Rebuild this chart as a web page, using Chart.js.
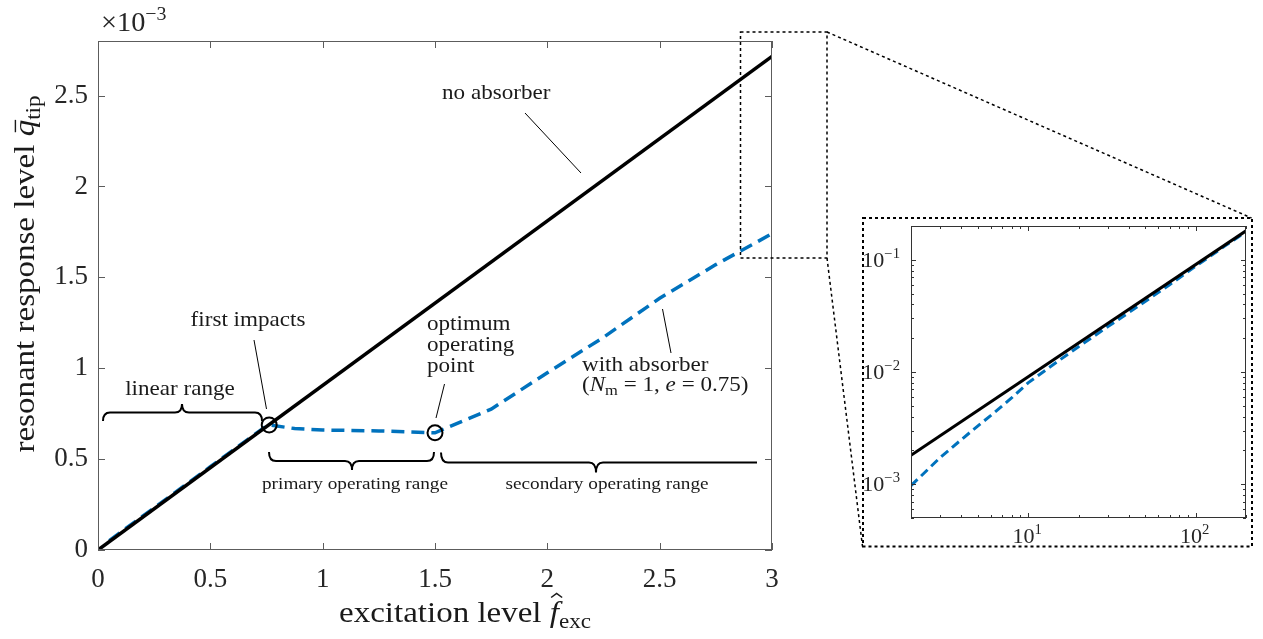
<!DOCTYPE html>
<html>
<head>
<meta charset="utf-8">
<script src="https://cdn.jsdelivr.net/npm/chart.js@4.4.1/dist/chart.umd.min.js"></script>
<style>
  html, body { margin: 0; padding: 0; background: #fff; }
  #wrap { position: relative; width: 1263px; height: 639px; }
  #mainChart { position: absolute; left: 0; top: 0; }
  #insetChart { position: absolute; left: 858px; top: 214px; }
</style>
</head>
<body>
<div id="wrap">
  <canvas id="mainChart" width="1263" height="639"></canvas>
  <canvas id="insetChart" width="400" height="340"></canvas>
</div>
<script>
// excitation level f_exc and resonant tip response (main plot in units of 1e-3)
const fNoAbs = [0, 3];
const qNoAbs = [0, 2.715];
const fAbs = [0.05, 0.25, 0.5, 0.75, 0.762, 0.875, 1.0, 1.25, 1.5, 1.75, 2.0, 2.25, 2.5, 2.75, 3.0];
const qAbs = [0.052, 0.232, 0.458, 0.683, 0.688, 0.668, 0.66, 0.655, 0.645, 0.775, 0.975, 1.17, 1.385, 1.57, 1.74];
// first impacts / optimum operating point
const fMark = [0.762, 1.5];
const qMark = [0.688, 0.645];

const xTicks = [0, 0.5, 1, 1.5, 2, 2.5, 3];
const xTickLabels = ['0', '0.5', '1', '1.5', '2', '2.5', '3'];
const yTicks = [0, 0.5, 1, 1.5, 2, 2.5];
const yTickLabels = ['0', '0.5', '1', '1.5', '2', '2.5'];

// zoomed-out view, log-log (absolute values)
const fLogNoAbs = [2, 200];
const qLogNoAbs = [1.81e-3, 0.181];
const fLogAbs = [2, 3, 4, 5, 6, 8, 10, 15, 20, 30, 50, 70, 100, 150, 200];
const qLogAbs = [9.7e-4, 1.74e-3, 2.5e-3, 3.3e-3, 4.1e-3, 5.9e-3, 8.0e-3, 0.0124, 0.0168, 0.0254, 0.0425, 0.060, 0.0875, 0.133, 0.178];
const insetXTicks = [10, 100];
const insetXExp = ['1', '2'];
const insetYTicks = [1e-3, 1e-2, 1e-1];
const insetYExp = ['\u22123', '\u22122', '\u22121'];

const serif = "'Liberation Serif', 'DejaVu Serif', serif";
const ink = '#1a1a1a';
const axisInk = '#262626';
const blue = '#0072BD';
const SX = 1.1; // widen Times glyphs a little

const pts = (xs, ys) => xs.map((x, i) => ({ x: x, y: ys[i] }));

function fontOf(p) {
  return (p.italic ? 'italic ' : '') + p.size + 'px ' + serif;
}

// draw a run of text pieces (sub/superscripts, italics, accents)
function drawParts(ctx, parts, x, y, align, sx) {
  sx = sx || 1;
  const widths = parts.map(p => { ctx.font = fontOf(p); return ctx.measureText(p.t).width * sx; });
  const total = widths.reduce((a, b) => a + b, 0);
  let cx = align === 'center' ? x - total / 2 : align === 'right' ? x - total : x;
  parts.forEach((p, i) => {
    ctx.save();
    ctx.font = fontOf(p);
    ctx.textAlign = 'left';
    ctx.textBaseline = 'alphabetic';
    ctx.fillStyle = p.color || ink;
    ctx.translate(cx, y + (p.dy || 0));
    ctx.scale(sx, 1);
    ctx.fillText(p.t, 0, 0);
    const w = widths[i] / sx;
    ctx.strokeStyle = p.color || ink;
    ctx.lineWidth = 1.4;
    if (p.accent === 'bar') {
      ctx.beginPath();
      ctx.moveTo(w * 0.25, -p.size * 0.62);
      ctx.lineTo(w * 1.0, -p.size * 0.62);
      ctx.stroke();
    } else if (p.accent === 'hat') {
      const c = w * 0.75, top = -p.size * 0.95;
      ctx.beginPath();
      ctx.moveTo(c - 5, top + 4);
      ctx.lineTo(c, top);
      ctx.lineTo(c + 5, top + 4);
      ctx.stroke();
    }
    ctx.restore();
    cx += widths[i];
  });
  return total;
}

function line(ctx, x1, y1, x2, y2, w, dash) {
  ctx.save();
  ctx.strokeStyle = '#000';
  ctx.lineWidth = w;
  ctx.setLineDash(dash || []);
  ctx.beginPath();
  ctx.moveTo(x1, y1);
  ctx.lineTo(x2, y2);
  ctx.stroke();
  ctx.restore();
}

// curly brace along y=yLine, from x1 to x2, tip at xt pointing by d (sign gives direction)
function brace(ctx, x1, x2, xt, yLine, d, flatRight) {
  const r = 7;
  ctx.save();
  ctx.strokeStyle = '#000';
  ctx.lineWidth = 2;
  ctx.beginPath();
  ctx.moveTo(x1, yLine - d);
  ctx.quadraticCurveTo(x1, yLine, x1 + r, yLine);
  ctx.lineTo(xt - r, yLine);
  ctx.quadraticCurveTo(xt, yLine, xt, yLine + d);
  ctx.quadraticCurveTo(xt, yLine, xt + r, yLine);
  if (flatRight) {
    ctx.lineTo(x2, yLine);
  } else {
    ctx.lineTo(x2 - r, yLine);
    ctx.quadraticCurveTo(x2, yLine, x2, yLine - d);
  }
  ctx.stroke();
  ctx.restore();
}

const mainDecor = {
  id: 'mainDecor',
  afterDatasetsDraw(chart) {
    const ctx = chart.ctx;
    const a = chart.chartArea;
    const sx = chart.scales.x, sy = chart.scales.y;
    ctx.save();
    // axes box and inward ticks
    ctx.strokeStyle = '#5c5c5c';
    ctx.lineWidth = 1;
    ctx.strokeRect(a.left + 0.5, a.top + 0.5, a.right - a.left - 1, a.bottom - a.top - 1);
    ctx.beginPath();
    xTicks.forEach(v => {
      const px = Math.round(sx.getPixelForValue(v)) + 0.5;
      ctx.moveTo(px, a.bottom); ctx.lineTo(px, a.bottom - 7);
      ctx.moveTo(px, a.top); ctx.lineTo(px, a.top + 7);
    });
    yTicks.forEach(v => {
      const py = Math.round(sy.getPixelForValue(v)) + 0.5;
      ctx.moveTo(a.left, py); ctx.lineTo(a.left + 7, py);
      ctx.moveTo(a.right, py); ctx.lineTo(a.right - 7, py);
    });
    ctx.stroke();
    ctx.restore();

    // exponent of the y axis
    drawParts(ctx, [
      { t: '\u00d710', size: 27, color: axisInk },
      { t: '\u22123', size: 19, dy: -11, color: axisInk }
    ], 101, 31, 'left', 1.05);

    // axis titles
    drawParts(ctx, [
      { t: 'excitation level ', size: 30 },
      { t: 'f', size: 30, italic: true, accent: 'hat' },
      { t: 'exc', size: 21, dy: 6 }
    ], 465, 622, 'center', SX);
    ctx.save();
    ctx.translate(34, 274);
    ctx.rotate(-Math.PI / 2);
    drawParts(ctx, [
      { t: 'resonant response level ', size: 30 },
      { t: 'q', size: 30, italic: true, accent: 'bar' },
      { t: 'tip', size: 21, dy: 6 }
    ], 0, 0, 'center', SX);
    ctx.restore();

    // annotations
    drawParts(ctx, [{ t: 'no absorber', size: 21 }], 442, 99, 'left', SX);
    line(ctx, 525, 113, 581, 173, 1);
    drawParts(ctx, [{ t: 'first impacts', size: 21 }], 248, 326, 'center', SX);
    line(ctx, 254, 340, 266.5, 409, 1);
    drawParts(ctx, [{ t: 'linear range', size: 21 }], 180, 395, 'center', SX);
    brace(ctx, 103, 262, 182, 412.5, -8.5);
    drawParts(ctx, [{ t: 'optimum', size: 21 }], 427, 330, 'left', SX);
    drawParts(ctx, [{ t: 'operating', size: 21 }], 427, 351, 'left', SX);
    drawParts(ctx, [{ t: 'point', size: 21 }], 427, 372, 'left', SX);
    line(ctx, 444.5, 384, 436, 418, 1);
    drawParts(ctx, [{ t: 'with absorber', size: 21 }], 582, 371, 'left', SX);
    drawParts(ctx, [
      { t: '(', size: 21 },
      { t: 'N', size: 21, italic: true },
      { t: 'm', size: 15, dy: 4 },
      { t: ' = 1, ', size: 21 },
      { t: 'e', size: 21, italic: true },
      { t: ' = 0.75)', size: 21 }
    ], 582, 391, 'left', SX);
    line(ctx, 662.5, 309, 671, 353, 1);
    brace(ctx, 269, 434, 352, 461, 9);
    drawParts(ctx, [{ t: 'primary operating range', size: 17.5 }], 355, 489, 'center', SX);
    brace(ctx, 441, 757, 596, 462.5, 10, true);
    drawParts(ctx, [{ t: 'secondary operating range', size: 17.5 }], 607, 489, 'center', SX);

    // zoom window and connectors to the inset
    ctx.save();
    ctx.strokeStyle = '#000';
    ctx.lineWidth = 1.5;
    ctx.setLineDash([3, 3]);
    ctx.strokeRect(740.5, 32, 86.5, 226);
    ctx.restore();
    line(ctx, 827, 32, 1251.5, 218, 1.5, [3, 3]);
    line(ctx, 827, 258, 862.5, 546.5, 1.5, [3, 3]);
  }
};

new Chart(document.getElementById('mainChart'), {
  type: 'line',
  data: {
    datasets: [
      {
        label: 'markers',
        data: pts(fMark, qMark),
        showLine: false,
        pointRadius: 7.5,
        pointBorderWidth: 2,
        pointBorderColor: '#000',
        pointBackgroundColor: 'rgba(0,0,0,0)',
        order: 0
      },
      {
        label: 'no absorber',
        data: pts(fNoAbs, qNoAbs),
        borderColor: '#000',
        borderWidth: 3.5,
        pointRadius: 0,
        order: 1
      },
      {
        label: 'with absorber',
        data: pts(fAbs, qAbs),
        borderColor: blue,
        borderWidth: 3.5,
        borderDash: [13, 7],
        pointRadius: 0,
        tension: 0,
        order: 2
      }
    ]
  },
  options: {
    responsive: false,
    devicePixelRatio: 1,
    animation: false,
    layout: { padding: { left: 0, top: 41, right: 491, bottom: 0 } },
    plugins: { legend: { display: false }, tooltip: { enabled: false } },
    scales: {
      x: {
        type: 'linear',
        min: 0,
        max: 3,
        grid: { display: false, drawTicks: false },
        border: { display: false },
        afterBuildTicks: s => { s.ticks = xTicks.map(v => ({ value: v })); },
        afterFit: s => { s.height = 89; },
        ticks: {
          padding: 14,
          color: axisInk,
          font: { family: serif, size: 27 },
          maxRotation: 0,
          callback: (v, i) => xTickLabels[i]
        }
      },
      y: {
        type: 'linear',
        min: 0,
        max: 2.8,
        grid: { display: false, drawTicks: false },
        border: { display: false },
        afterBuildTicks: s => { s.ticks = yTicks.map(v => ({ value: v })); },
        afterFit: s => { s.width = 98; },
        ticks: {
          padding: 10,
          color: axisInk,
          font: { family: serif, size: 27 },
          callback: (v, i) => yTickLabels[i]
        }
      }
    }
  },
  plugins: [mainDecor]
});

const insetDecor = {
  id: 'insetDecor',
  afterDatasetsDraw(chart) {
    const ctx = chart.ctx;
    const a = chart.chartArea;
    const sx = chart.scales.x, sy = chart.scales.y;
    ctx.save();
    ctx.strokeStyle = '#333';
    ctx.lineWidth = 1;
    ctx.strokeRect(a.left + 0.5, a.top + 0.5, a.right - a.left - 1, a.bottom - a.top - 1);
    ctx.beginPath();
    // decade ticks and minor ticks in between
    for (let d = 1; d <= 100; d *= 10) {
      for (let k = 1; k <= 9; k++) {
        const v = k * d;
        if (v < sx.min || v > sx.max) continue;
        const len = k === 1 ? 5 : 3;
        const px = Math.round(sx.getPixelForValue(v)) + 0.5;
        ctx.moveTo(px, a.bottom); ctx.lineTo(px, a.bottom - len);
        ctx.moveTo(px, a.top); ctx.lineTo(px, a.top + len);
      }
    }
    for (let d = 1e-4; d <= 0.2; d *= 10) {
      for (let k = 1; k <= 9; k++) {
        const v = k * d;
        if (v < sy.min || v > sy.max) continue;
        const len = k === 1 ? 5 : 3;
        const py = Math.round(sy.getPixelForValue(v)) + 0.5;
        ctx.moveTo(a.left, py); ctx.lineTo(a.left + len, py);
        ctx.moveTo(a.right, py); ctx.lineTo(a.right - len, py);
      }
    }
    ctx.stroke();
    ctx.restore();

    insetXTicks.forEach((v, i) => {
      drawParts(ctx, [
        { t: '10', size: 21, color: axisInk },
        { t: insetXExp[i], size: 14, dy: -9, color: axisInk }
      ], sx.getPixelForValue(v) - 1, 329, 'center', 1.05);
    });
    insetYTicks.forEach((v, i) => {
      drawParts(ctx, [
        { t: '10', size: 21, color: axisInk },
        { t: insetYExp[i], size: 14, dy: -9, color: axisInk }
      ], a.left - 11, sy.getPixelForValue(v) + 7, 'right', 1.05);
    });

    // dashed frame round the inset
    ctx.save();
    ctx.strokeStyle = '#000';
    ctx.lineWidth = 2;
    ctx.setLineDash([3, 3]);
    ctx.strokeRect(5, 4, 389, 328.5);
    ctx.restore();
  }
};

new Chart(document.getElementById('insetChart'), {
  type: 'line',
  data: {
    datasets: [
      {
        label: 'no absorber',
        data: pts(fLogNoAbs, qLogNoAbs),
        borderColor: '#000',
        borderWidth: 3,
        pointRadius: 0,
        order: 0
      },
      {
        label: 'with absorber',
        data: pts(fLogAbs, qLogAbs),
        borderColor: blue,
        borderWidth: 3,
        borderDash: [9, 5],
        pointRadius: 0,
        order: 1
      }
    ]
  },
  options: {
    responsive: false,
    devicePixelRatio: 1,
    animation: false,
    layout: { padding: { left: 0, top: 12, right: 12, bottom: 0 } },
    plugins: { legend: { display: false }, tooltip: { enabled: false } },
    scales: {
      x: {
        type: 'logarithmic',
        min: 2,
        max: 200,
        grid: { display: false, drawTicks: false },
        border: { display: false },
        ticks: { display: false },
        afterBuildTicks: s => { s.ticks = insetXTicks.map(v => ({ value: v })); },
        afterFit: s => { s.height = 36; }
      },
      y: {
        type: 'logarithmic',
        min: 5e-4,
        max: 0.2,
        grid: { display: false, drawTicks: false },
        border: { display: false },
        ticks: { display: false },
        afterBuildTicks: s => { s.ticks = insetYTicks.map(v => ({ value: v })); },
        afterFit: s => { s.width = 53; }
      }
    }
  },
  plugins: [insetDecor]
});
</script>
</body>
</html>
